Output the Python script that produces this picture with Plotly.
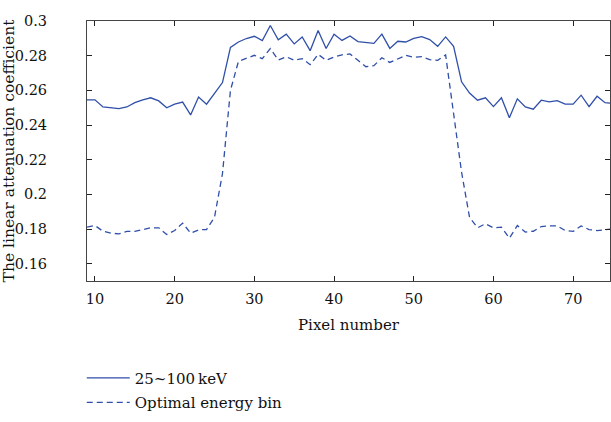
import plotly.graph_objects as go

pixels = list(range(9, 76))

full_spectrum = [
    0.2545, 0.2545, 0.2504, 0.2499, 0.2495, 0.2504, 0.2529, 0.2545, 0.2557, 0.2539,
    0.2499, 0.2520, 0.2532, 0.2458, 0.2561, 0.2520, 0.2582, 0.2645, 0.2848, 0.2879,
    0.2899, 0.2912, 0.2887, 0.2974, 0.2891, 0.2924, 0.2868, 0.2908, 0.2829, 0.2945,
    0.2841, 0.2924, 0.2888, 0.2914, 0.2881, 0.2877, 0.2871, 0.2924, 0.2842, 0.2883,
    0.2879, 0.2900, 0.2910, 0.2893, 0.2854, 0.2908, 0.2854, 0.2649, 0.2584, 0.2543,
    0.2557, 0.2506, 0.2557, 0.2442, 0.2551, 0.2504, 0.2491, 0.2543, 0.2533, 0.2541,
    0.2520, 0.2520, 0.2572, 0.2506, 0.2566, 0.2529, 0.2524,
]

optimal_bin = [
    0.1811, 0.1820, 0.1787, 0.1776, 0.1772, 0.1786, 0.1786, 0.1795, 0.1807, 0.1807,
    0.1768, 0.1791, 0.1834, 0.1776, 0.1795, 0.1797, 0.1868, 0.2120, 0.2600, 0.2767,
    0.2784, 0.2802, 0.2783, 0.2841, 0.2775, 0.2794, 0.2773, 0.2783, 0.2748, 0.2808,
    0.2773, 0.2792, 0.2805, 0.2810, 0.2773, 0.2736, 0.2742, 0.2788, 0.2761, 0.2781,
    0.2802, 0.2790, 0.2794, 0.2777, 0.2773, 0.2804, 0.2450, 0.2128, 0.1867, 0.1807,
    0.1830, 0.1807, 0.1811, 0.1747, 0.1820, 0.1782, 0.1787, 0.1814, 0.1818, 0.1818,
    0.1791, 0.1786, 0.1818, 0.1797, 0.1791, 0.1795, 0.1801,
]

x_ticks = [10, 20, 30, 40, 50, 60, 70]
y_ticks = [0.16, 0.18, 0.2, 0.22, 0.24, 0.26, 0.28, 0.3]
y_tick_text = ["0.16", "0.18", "0.2", "0.22", "0.24", "0.26", "0.28", "0.3"]

series_names = ["25~100\u2009keV", "Optimal energy bin"]

color = "#2f4fa8"
font_family = "DejaVu Serif"

fig = go.Figure()
fig.add_trace(go.Scatter(
    x=pixels, y=full_spectrum, mode="lines", name=series_names[0],
    line=dict(color=color, width=1.3), legendgroup="a",
))
fig.add_trace(go.Scatter(
    x=pixels, y=optimal_bin, mode="lines", name=series_names[1],
    line=dict(color=color, width=1.3, dash="6px,4px"), legendgroup="b",
))

axis_common = dict(
    showgrid=False, zeroline=False, showline=True, linecolor="#444",
    linewidth=1, mirror="ticks", ticks="inside", ticklen=5, tickcolor="#222",
    tickfont=dict(family=font_family, size=14.5, color="#111"),
)

fig.update_layout(
    width=611, height=422,
    margin=dict(l=86, r=0, t=21, b=141),
    paper_bgcolor="white", plot_bgcolor="white",
    font=dict(family=font_family, size=15, color="#111"),
    xaxis=dict(
        range=[9, 74.625], tickvals=x_ticks, ticklabelstandoff=5,
        title=dict(text="Pixel number", font=dict(family=font_family, size=15), standoff=13),
        **axis_common,
    ),
    yaxis=dict(
        range=[0.15, 0.3], tickvals=y_ticks, ticktext=y_tick_text, ticklabelstandoff=36,
        title=dict(text="The linear attenuation coefficient", font=dict(family=font_family, size=15.5), standoff=4),
        **axis_common,
    ),
    legend=dict(
        x=-0.01, y=-0.31, xanchor="left", yanchor="top",
        font=dict(family=font_family, size=15, color="#111"),
        tracegroupgap=2, itemwidth=43, bgcolor="rgba(0,0,0,0)",
    ),
    showlegend=True,
)

fig.write_html("out.html")
